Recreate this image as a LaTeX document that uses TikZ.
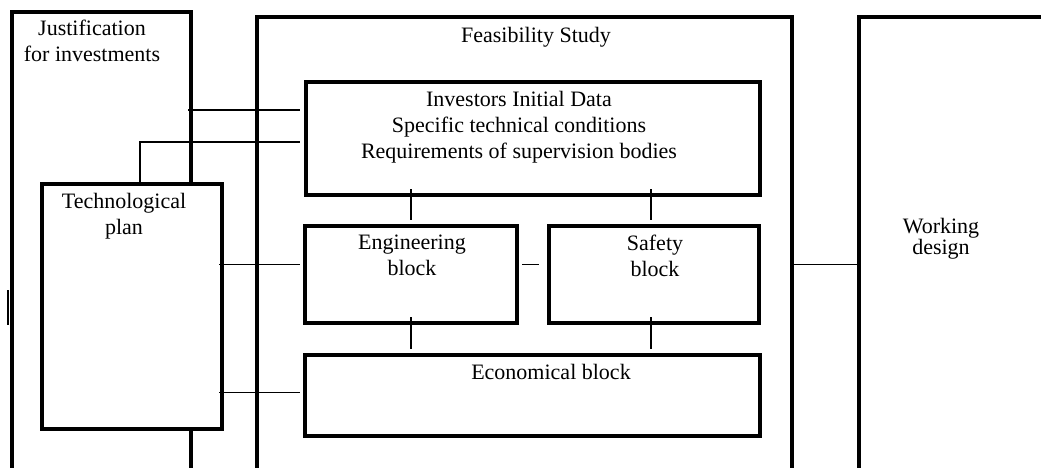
\documentclass[tikz,border=0pt]{standalone}
\usepackage{fontspec}
\setmainfont{Liberation Serif}
\usetikzlibrary{calc}
\tikzset{
  blk/.style={draw, line width=3.6pt, fill=white, inner sep=0pt, outer sep=0pt, anchor=north west},
  lbl/.style={font=\fontsize{22}{26}\selectfont, align=center, inner sep=0pt, anchor=north},
  link/.style={line width=1.4pt}
}
\begin{document}
\begin{tikzpicture}[x=1pt,y=-1pt]
\useasboundingbox (0,0) rectangle (1041,468);
\clip (0,0) rectangle (1041,468);

% the three stages, open at the bottom
\node[blk, minimum width=179pt, minimum height=480pt] (just) at (12,12) {};
\node[blk, minimum width=535pt, minimum height=480pt] (feas) at (257,17) {};
\node[blk, minimum width=200pt, minimum height=480pt] (work) at (859,17) {};
% the blocks
\node[blk, minimum width=180pt, minimum height=245pt] (tech) at (42,184) {};
\node[blk, minimum width=454pt, minimum height=113pt] (inv) at (306,82) {};
\node[blk, minimum width=212pt, minimum height=97pt] (eng) at (305,226) {};
\node[blk, minimum width=210pt, minimum height=97pt] (safe) at (549,226) {};
\node[blk, minimum width=455pt, minimum height=81pt] (eco) at (305,355) {};

% labels
\node[lbl] (justT) at (92,20) {Justification\\for investments};
\node[lbl] (feasT) at (536,27) {Feasibility Study};
\node[lbl] (invT) at (519,91) {Investors Initial Data\\Specific technical conditions\\Requirements of supervision bodies};
\node[lbl] (techT) at (124,193) {Technological\\plan};
\node[lbl] (engT) at (412,235) {Engineering\\block};
\node[lbl] (safeT) at (655,235) {Safety\\block};
\node[lbl] (ecoT) at (551,364) {Economical block};
\node[lbl, font=\fontsize{22}{20}\selectfont] (workT) at (941,218) {Working\\design};

% links into the initial data
\coordinate (i1) at ([xshift=-6pt,yshift=-28pt]inv.north west);
\coordinate (i2) at ([xshift=-6pt,yshift=-60pt]inv.north west);
\draw[link] ([xshift=-3pt]just.east |- i1) -- (i1);
\draw[link] ([xshift=8pt]tech.north) |- (i2);

% vertical links between the blocks
\foreach \a/\b/\c/\dx in {inv/eng/eng/0, inv/safe/safe/-3, eng/eco/eng/0, safe/eco/safe/-3}
  \draw[link] ($(\c.center |- \a.south)+(\dx,-6)$) -- ($(\c.center |- \b.north)+(\dx,-6)$);

% horizontal links
\coordinate (e1) at ([xshift=-5pt,yshift=10pt]eng.west);
\coordinate (e2) at ([xshift=-5pt,yshift=3pt]eco.west);
\draw[link] ([xshift=5pt,yshift=10pt]eng.east) -- ([xshift=-10pt,yshift=10pt]safe.west);
\draw[link] ([xshift=-3pt]tech.east |- e1) -- (e1);
\draw[link] ([xshift=-3pt]tech.east |- e2) -- (e2);
\draw[link] (feas.east |- e1) -- (work.west |- e1);

% stray mark at the left edge
\draw[line width=2pt] (7.5,290) -- (7.5,325);
\end{tikzpicture}
\end{document}
